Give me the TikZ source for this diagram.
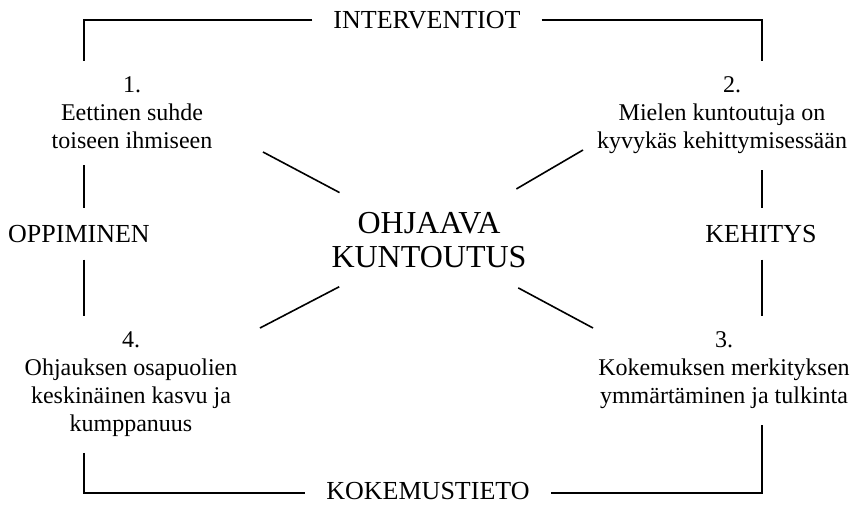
\documentclass[tikz,border=0pt]{standalone}
\usepackage{fontspec}
\setmainfont{Liberation Serif}
\usetikzlibrary{positioning}
\begin{document}
\begin{tikzpicture}[x=1pt,y=-1pt]
\tikzset{frame/.style={line width=2.6pt}, spoke/.style={line width=1.6pt},
  item/.style={align=center, inner sep=0pt, outer ysep=16pt, anchor=north, font=\fontsize{24}{28}\selectfont},
  side/.style={inner sep=0pt, outer sep=17pt, font=\fontsize{26}{30}\selectfont}}
\useasboundingbox (0,0) rectangle (853,504);
\node[side, outer xsep=21pt] (intv) at (427,20) {INTERVENTIOT};
\node[side, outer xsep=21pt] (kok) at (428,491) {KOKEMUSTIETO};
\node[side] (opp) at (79,234) {OPPIMINEN};
\node[side] (keh) at (761,234) {KEHITYS};
\node[circle, inner sep=0pt, align=center, font=\fontsize{32}{34}\selectfont] (ohj) at (429,240) {OHJAAVA\\KUNTOUTUS};
\node[item] (n1) at (132,61) {1.\\Eettinen suhde\\toiseen ihmiseen};
\node[item] (n2) at (722,61) {\hspace*{20pt}2.\\Mielen kuntoutuja on\\kyvykäs kehittymisessään};
\node[item] (n3) at (724,316) {3.\\Kokemuksen merkityksen\\ymmärtäminen ja tulkinta};
\node[item] (n4) at (131,316) {4.\\Ohjauksen osapuolien\\keskinäinen kasvu ja\\kumppanuus};
\coordinate (tl) at (84,20);
\coordinate (tr) at (762,20);
\coordinate (bl) at (84,493);
\coordinate (br) at (762,493);
\coordinate (d1) at (263,152);
\coordinate (d2) at (583,150);
\coordinate (d3) at (593,328);
\coordinate (d4) at (260,328);
\draw[frame] (intv.west) -- (tl) -- (tl |- n1.north);
\draw[frame] (tl |- n1.south) -- (tl |- opp.north);
\draw[frame] (tl |- opp.south) -- (tl |- n4.north);
\draw[frame] (tl |- n4.south) -- (bl) -- (kok.west |- bl);
\draw[frame] (intv.east) -- (tr) -- (tr |- n2.north);
\draw[frame] (tr |- n2.south) -- (tr |- keh.north);
\draw[frame] (tr |- keh.south) -- (tr |- n3.north);
\draw[frame] (tr |- n3.south) -- (br) -- (kok.east |- br);
\draw[spoke] (ohj) -- (d1);
\draw[spoke] (ohj) -- (d2);
\draw[spoke] (ohj) -- (d3);
\draw[spoke] (ohj) -- (d4);
\end{tikzpicture}
\end{document}
